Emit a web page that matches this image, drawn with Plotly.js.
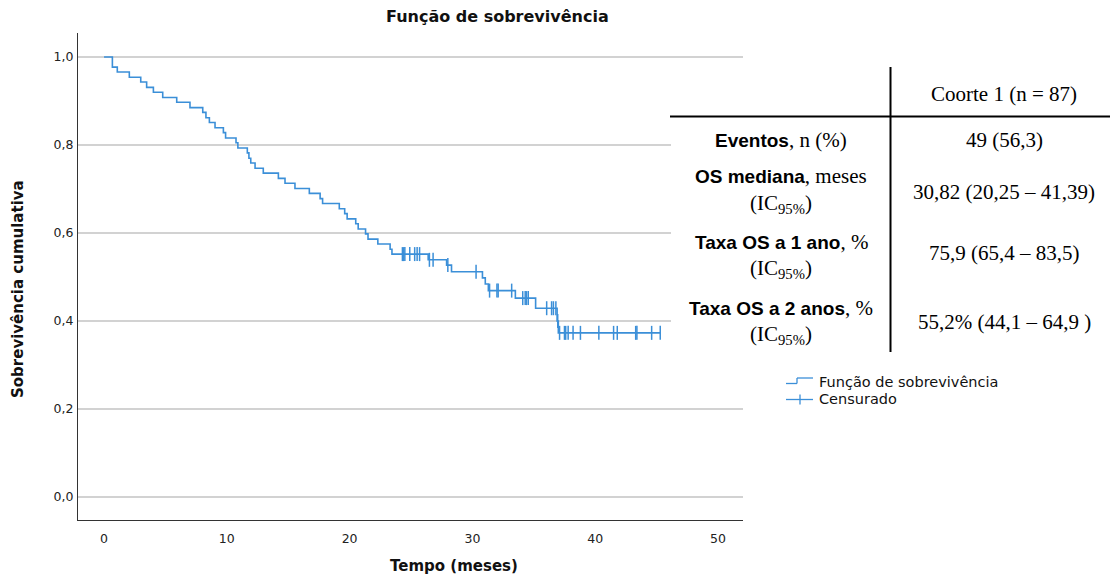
<!DOCTYPE html>
<html>
<head>
<meta charset="utf-8">
<script src="https://cdn.plot.ly/plotly-3.0.1.min.js"></script>
<style>html,body{margin:0;padding:0;background:#fff;}#chart{width:1110px;height:583px;}</style>
</head>
<body>
<div id="chart"></div>
<script>
// Kaplan-Meier step data (time in months, cumulative survival after each step)
const eventTimes = [0, 0.68, 1.08, 2.06, 2.99, 3.47, 4.02, 4.78, 5.92, 7.0, 8.04, 8.3, 8.58, 9.04, 9.72, 9.9, 10.75, 10.9, 11.67, 11.8, 11.95, 12.3, 12.97, 14.2, 14.74, 15.55, 16.72, 17.6, 17.8, 19.16, 19.6, 19.8, 20.5, 20.7, 21.3, 21.5, 22.3, 23.3, 23.45, 26.4, 27.9, 28.3, 30.82, 31.05, 31.3, 33.5, 35.15, 36.9, 37.0, 45.3];
const survival   = [1, 0.977, 0.966, 0.954, 0.943, 0.931, 0.920, 0.908, 0.897, 0.885, 0.874, 0.862, 0.851, 0.839, 0.828, 0.816, 0.805, 0.793, 0.782, 0.770, 0.759, 0.747, 0.736, 0.724, 0.713, 0.701, 0.690, 0.678, 0.667, 0.655, 0.644, 0.632, 0.621, 0.609, 0.598, 0.586, 0.575, 0.563, 0.552, 0.539, 0.527, 0.512, 0.498, 0.484, 0.469, 0.452, 0.429, 0.400, 0.373, 0.373];
// Censored observations
const censorTimes = [24.3, 24.4, 24.5, 24.9, 25.3, 25.5, 25.7, 26.5, 26.8, 28.0, 30.3, 31.4, 32.0, 32.1, 33.2, 34.1, 34.3, 34.4, 34.55, 36.05, 36.45, 36.6, 36.8, 36.95, 37.1, 37.5, 37.6, 37.8, 38.2, 38.8, 40.3, 41.5, 41.8, 43.3, 43.4, 44.6, 45.3];
const censorSurv  = [0.552, 0.552, 0.552, 0.552, 0.552, 0.552, 0.552, 0.539, 0.539, 0.527, 0.512, 0.469, 0.469, 0.469, 0.469, 0.452, 0.452, 0.452, 0.452, 0.429, 0.429, 0.429, 0.429, 0.400, 0.373, 0.373, 0.373, 0.373, 0.373, 0.373, 0.373, 0.373, 0.373, 0.373, 0.373, 0.373, 0.373];

const xTicks = [0, 10, 20, 30, 40, 50];
const yTicks = [0, 0.2, 0.4, 0.6, 0.8, 1.0];
const yTickLabels = ['0,0', '0,2', '0,4', '0,6', '0,8', '1,0'];

// Table content
const tableHeader = 'Coorte 1 (n = 87)';
const rowLabels = [
  ['<b>Eventos</b>', ', n (%)'],
  ['<b>OS mediana</b>', ', meses'],
  ['<b>Taxa OS a 1 ano</b>', ', %'],
  ['<b>Taxa OS a 2 anos</b>', ', %']
];
const rowValues = ['49 (56,3)', '30,82 (20,25 – 41,39)', '75,9 (65,4 – 83,5)', '55,2% (44,1 – 64,9 )'];
const legendLabels = ['Função de sobrevivência', 'Censurado'];

const BLUE = '#3b8fd8';
const L = 78, R = 743, T = 33, B = 520;
const W = R - L, H = B - T;
const px = x => (x - L) / W;
const py = y => (B - y) / H;

const traces = [
  {x: eventTimes, y: survival, mode: 'lines', line: {shape: 'hv', color: BLUE, width: 1.6}, showlegend: false, hoverinfo: 'skip'},
  {x: censorTimes, y: censorSurv, mode: 'markers', marker: {symbol: 'line-ns-open', size: 10, color: BLUE, line: {color: BLUE, width: 1.5}}, showlegend: false, hoverinfo: 'skip'}
];

const shapes = [];
const annotations = [];
const sansBold = 'Liberation Sans';
const serif = 'Liberation Serif';

// white table panel
shapes.push({type: 'rect', xref: 'paper', yref: 'paper', x0: px(671), x1: px(1112), y0: py(356), y1: py(62), fillcolor: '#ffffff', line: {width: 0}, layer: 'above'});
// table lines
shapes.push({type: 'line', xref: 'paper', yref: 'paper', x0: px(670), x1: px(1110), y0: py(116.5), y1: py(116.5), line: {color: '#000', width: 2}, layer: 'above'});
shapes.push({type: 'line', xref: 'paper', yref: 'paper', x0: px(890.5), x1: px(890.5), y0: py(67), y1: py(352), line: {color: '#000', width: 2}, layer: 'above'});

// legend icons
shapes.push({type: 'line', xref: 'paper', yref: 'paper', x0: px(786), x1: px(797), y0: py(383.5), y1: py(383.5), line: {color: BLUE, width: 1.3}, layer: 'above'});
shapes.push({type: 'line', xref: 'paper', yref: 'paper', x0: px(797), x1: px(797), y0: py(383.5), y1: py(378), line: {color: BLUE, width: 1.3}, layer: 'above'});
shapes.push({type: 'line', xref: 'paper', yref: 'paper', x0: px(797), x1: px(813), y0: py(378), y1: py(378), line: {color: BLUE, width: 1.3}, layer: 'above'});
shapes.push({type: 'line', xref: 'paper', yref: 'paper', x0: px(786), x1: px(813), y0: py(399.5), y1: py(399.5), line: {color: BLUE, width: 1.3}, layer: 'above'});
shapes.push({type: 'line', xref: 'paper', yref: 'paper', x0: px(800), x1: px(800), y0: py(394.5), y1: py(404.5), line: {color: BLUE, width: 1.3}, layer: 'above'});

annotations.push({xref: 'paper', yref: 'paper', x: px(817), y: py(381.5), xanchor: 'left', yanchor: 'middle', text: legendLabels[0], showarrow: false, font: {family: 'DejaVu Sans', size: 14.5, color: '#111'}});
annotations.push({xref: 'paper', yref: 'paper', x: px(817), y: py(398.5), xanchor: 'left', yanchor: 'middle', text: legendLabels[1], showarrow: false, font: {family: 'DejaVu Sans', size: 14.5, color: '#111'}});

// table text
const colL = 781, colR = 1004;
annotations.push({xref: 'paper', yref: 'paper', x: px(colR), y: py(94), xanchor: 'center', yanchor: 'middle', text: tableHeader, showarrow: false, font: {family: serif, size: 21, color: '#000'}});
const labelY = [[140], [176.5, 204], [241.5, 268.5], [308, 334.5]];
const valueY = [140, 191.5, 253, 321.5];
const ic = '(IC<sub>95%</sub>)';
rowLabels.forEach((r, i) => {
  const lbl = '<span style="font-family:' + sansBold + ';font-size:19px">' + r[0] + '</span>' + r[1];
  annotations.push({xref: 'paper', yref: 'paper', x: px(colL), y: py(labelY[i][0]), xanchor: 'center', yanchor: 'middle', text: lbl, showarrow: false, font: {family: serif, size: 21, color: '#000'}});
  if (labelY[i].length > 1) {
    annotations.push({xref: 'paper', yref: 'paper', x: px(colL), y: py(labelY[i][1]), xanchor: 'center', yanchor: 'middle', text: ic, showarrow: false, font: {family: serif, size: 21, color: '#000'}});
  }
  annotations.push({xref: 'paper', yref: 'paper', x: px(colR), y: py(valueY[i]), xanchor: 'center', yanchor: 'middle', text: rowValues[i], showarrow: false, font: {family: serif, size: 21, color: '#000'}});
});

// chart titles
annotations.push({xref: 'paper', yref: 'paper', x: px(497), y: py(17), xanchor: 'center', yanchor: 'middle', text: '<b>Função de sobrevivência</b>', showarrow: false, font: {family: 'DejaVu Sans', size: 16, color: '#111'}});
annotations.push({xref: 'paper', yref: 'paper', x: px(454), y: py(566), xanchor: 'center', yanchor: 'middle', text: '<b>Tempo (meses)</b>', showarrow: false, font: {family: 'DejaVu Sans', size: 15, color: '#111'}});
annotations.push({xref: 'paper', yref: 'paper', x: px(18), y: py(289), xanchor: 'center', yanchor: 'middle', textangle: -90, text: '<b>Sobrevivência cumulativa</b>', showarrow: false, font: {family: 'DejaVu Sans', size: 15, color: '#111'}});

const layout = {
  width: 1110, height: 583,
  margin: {l: L, r: 1110 - R, t: T, b: 583 - B, pad: 0},
  paper_bgcolor: '#fff', plot_bgcolor: '#fff',
  showlegend: false,
  xaxis: {range: [-2.12, 52.04], tickvals: xTicks, ticktext: xTicks.map(String), showgrid: false, zeroline: false, showline: true, linecolor: '#333', linewidth: 1, ticks: '', ticklabelstandoff: 7, tickfont: {family: 'DejaVu Sans', size: 12.5, color: '#222'}, fixedrange: true},
  yaxis: {range: [-0.0523, 1.0545], tickvals: yTicks, ticktext: yTickLabels, showgrid: true, gridcolor: '#d2d2d2', gridwidth: 1.5, zeroline: false, showline: true, linecolor: '#333', linewidth: 1, ticks: '', ticklabelstandoff: 1, tickfont: {family: 'DejaVu Sans', size: 12.5, color: '#222'}, fixedrange: true},
  shapes: shapes,
  annotations: annotations
};

Plotly.newPlot('chart', traces, layout, {displayModeBar: false, staticPlot: true});
</script>
</body>
</html>
